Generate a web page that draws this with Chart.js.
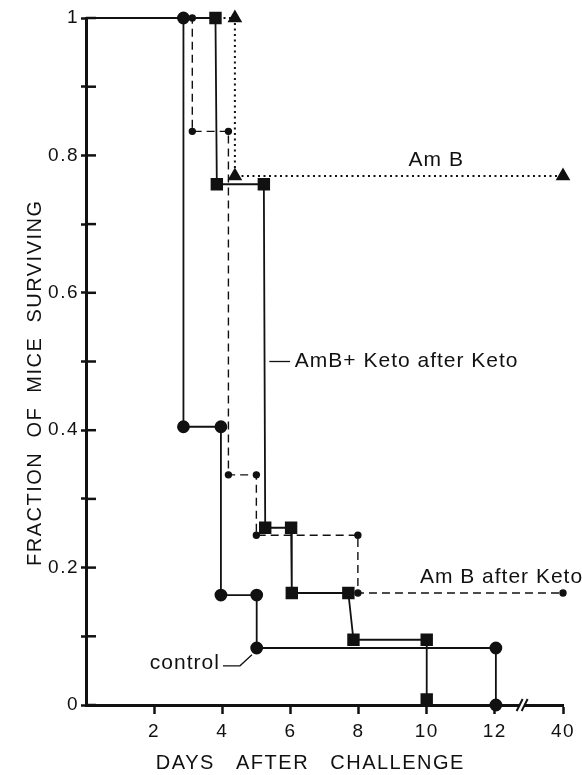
<!DOCTYPE html>
<html>
<head>
<meta charset="utf-8">
<script src="https://cdn.jsdelivr.net/npm/chart.js@4.4.1/dist/chart.umd.min.js"></script>
<style>
  html, body { margin: 0; padding: 0; background: #fff; }
  #wrap { width: 582px; height: 775px; position: relative; }
</style>
</head>
<body>
<div id="wrap"><canvas id="survival"></canvas></div>
<script>
// corner points of each step curve: days after challenge / fraction surviving
const controlDays = [0, 2.86, 2.86, 3.96, 3.96, 5.01, 5.01, 12.03, 12.03];
const controlFrac = [1, 1, 0.405, 0.405, 0.16, 0.16, 0.083, 0.083, 0];

const ambAfterKetoDays = [0, 3.12, 3.12, 4.18, 4.18, 5.0, 5.0, 7.98, 7.98, 40];
const ambAfterKetoFrac = [1, 1, 0.835, 0.835, 0.335, 0.335, 0.247, 0.247, 0.163, 0.163];

const ambKetoDays = [0, 3.8, 3.84, 5.22, 5.26, 6.02, 6.04, 7.7, 7.85, 10.0, 10.0];
const ambKetoFrac = [1, 1, 0.758, 0.758, 0.258, 0.258, 0.163, 0.163, 0.095, 0.095, 0.008];

const ambDays = [0, 4.37, 4.37, 40];
const ambFrac = [1, 1, 0.77, 0.77];

const xTickDays = [2, 4, 6, 8, 10, 12, 40];
const yTickValues = [0, 0.1, 0.2, 0.3, 0.4, 0.5, 0.6, 0.7, 0.8, 0.9, 1];
const yLabelValues = [0, 0.2, 0.4, 0.6, 0.8, 1];
const yLabelText = ['0', '0.2', '0.4', '0.6', '0.8', '1'];

// the x axis is broken between day 13 and day 39
const BREAK_FROM = 13, BREAK_TO = 39;
const axisX = d => d > BREAK_FROM ? d - (BREAK_TO - BREAK_FROM) : d;

const INK = '#111';
const FONT = '"Liberation Sans", Arial, Helvetica, sans-serif';

function points(days, frac) {
    return days.map((d, i) => ({ x: axisX(d), y: frac[i] }));
}
function radii(n, r) {
    // no marker where the curve leaves the y axis
    return Array.from({ length: n }, (_, i) => i === 0 ? 0 : r);
}

const curveLabels = [
    { text: 'Am B', x: 10.28, y: 0.793, align: 'center' },
    { text: 'AmB+ Keto after Keto', x: 6.13, y: 0.5, align: 'left', leader: [[5.38, 0.5], [5.99, 0.5]] },
    { text: 'Am B after Keto', x: 9.8, y: 0.186, align: 'left' },
    { text: 'control', x: 3.93, y: 0.061, align: 'right', leader: [[4.02, 0.057], [4.52, 0.057], [4.87, 0.073]] }
];

const decorPlugin = {
    id: 'decor',
    beforeDraw(chart) {
        chart.ctx.letterSpacing = '1.5px';
    },
    afterDraw(chart) {
        const ctx = chart.ctx;
        const xs = chart.scales.x, ys = chart.scales.y;
        const x0 = xs.getPixelForValue(0);
        const yBase = ys.getPixelForValue(0);

        ctx.save();
        ctx.strokeStyle = INK;
        ctx.lineWidth = 2.5;
        // inward half of the y ticks
        yTickValues.forEach(v => {
            const py = ys.getPixelForValue(v);
            ctx.beginPath();
            ctx.moveTo(x0, py);
            ctx.lineTo(x0 + 10, py);
            ctx.stroke();
        });

        // axis break: two slashes with a gap in the axis between them
        const bx = xs.getPixelForValue(12.8);
        ctx.fillStyle = '#fff';
        ctx.fillRect(bx - 2, yBase - 3, 4, 6);
        ctx.lineWidth = 2;
        [-2.5, 2.5].forEach(a => {
            ctx.beginPath();
            ctx.moveTo(bx + a - 3, yBase + 6);
            ctx.lineTo(bx + a + 3, yBase - 6);
            ctx.stroke();
        });

        // curve labels
        ctx.letterSpacing = '1px';
        ctx.fillStyle = INK;
        ctx.font = '21px ' + FONT;
        ctx.textBaseline = 'middle';
        ctx.lineWidth = 1.3;
        curveLabels.forEach(l => {
            if (l.leader) {
                ctx.beginPath();
                l.leader.forEach(([lx, ly], i) => {
                    const px = xs.getPixelForValue(lx), py = ys.getPixelForValue(ly);
                    if (i === 0) ctx.moveTo(px, py); else ctx.lineTo(px, py);
                });
                ctx.stroke();
            }
            ctx.textAlign = l.align;
            ctx.fillText(l.text, xs.getPixelForValue(l.x), ys.getPixelForValue(l.y));
        });
        ctx.restore();
    }
};

new Chart(document.getElementById('survival'), {
    type: 'scatter',
    data: {
        datasets: [
            {
                label: 'control',
                data: points(controlDays, controlFrac),
                showLine: true,
                borderColor: INK, backgroundColor: INK,
                borderWidth: 1.8,
                pointStyle: 'circle',
                pointRadius: radii(controlDays.length, 5.5),
                clip: false
            },
            {
                label: 'AmB+ Keto after Keto',
                data: points(ambKetoDays, ambKetoFrac),
                showLine: true,
                borderColor: INK, backgroundColor: INK,
                borderWidth: 1.8,
                pointStyle: 'rect',
                pointRadius: radii(ambKetoDays.length, 7.5),
                clip: false
            },
            {
                label: 'Am B after Keto',
                data: points(ambAfterKetoDays, ambAfterKetoFrac),
                showLine: true,
                borderColor: INK, backgroundColor: INK,
                borderWidth: 1.4,
                borderDash: [8, 5],
                pointStyle: 'circle',
                pointRadius: radii(ambAfterKetoDays.length, 3),
                clip: false
            },
            {
                label: 'Am B',
                data: points(ambDays, ambFrac),
                showLine: true,
                borderColor: INK, backgroundColor: INK,
                borderWidth: 2,
                borderDash: [2, 3.5],
                pointStyle: 'triangle',
                pointRadius: radii(ambDays.length, 6.5),
                clip: false
            }
        ]
    },
    options: {
        responsive: true,
        maintainAspectRatio: false,
        animation: false,
        devicePixelRatio: 1,
        layout: { padding: { top: 18, right: 19, left: 0, bottom: 0 } },
        plugins: { legend: { display: false }, tooltip: { enabled: false } },
        elements: { line: { tension: 0 }, point: { borderWidth: 0 } },
        scales: {
            x: {
                type: 'linear', min: 0, max: 14,
                border: { display: true, color: INK, width: 3 },
                grid: { display: true, drawOnChartArea: false, drawTicks: true, tickLength: 9, tickWidth: 2.5, tickColor: INK },
                afterBuildTicks: s => { s.ticks = xTickDays.map(d => ({ value: axisX(d) })); },
                ticks: {
                    color: INK, font: { size: 19, family: FONT }, padding: 6,
                    maxRotation: 0, autoSkip: false,
                    callback: (v, i) => String(xTickDays[i])
                },
                title: {
                    display: true, text: 'DAYS   AFTER   CHALLENGE    ', color: INK,
                    font: { size: 20, family: FONT }, padding: { top: 0, bottom: 0 }
                },
                afterFit: s => { s.height = 70; s.paddingLeft = 0; s.paddingRight = 0; }
            },
            y: {
                min: 0, max: 1,
                border: { display: true, color: INK, width: 3 },
                grid: { display: true, drawOnChartArea: false, drawTicks: true, tickLength: 5, tickWidth: 2.5, tickColor: INK },
                afterBuildTicks: s => { s.ticks = yTickValues.map(v => ({ value: v })); },
                ticks: {
                    color: INK, font: { size: 19, family: FONT }, padding: 2, autoSkip: false,
                    callback: v => {
                        const k = yLabelValues.findIndex(t => Math.abs(t - v) < 1e-6);
                        return k < 0 ? '' : yLabelText[k];
                    }
                },
                title: {
                    display: true, text: 'FRACTION  OF  MICE  SURVIVING      ', color: INK,
                    font: { size: 20, family: FONT }, padding: { top: 23, bottom: 0 }
                },
                afterFit: s => { s.width = 86; s.paddingTop = 0; s.paddingBottom = 0; }
            }
        }
    },
    plugins: [decorPlugin]
});
</script>
</body>
</html>
